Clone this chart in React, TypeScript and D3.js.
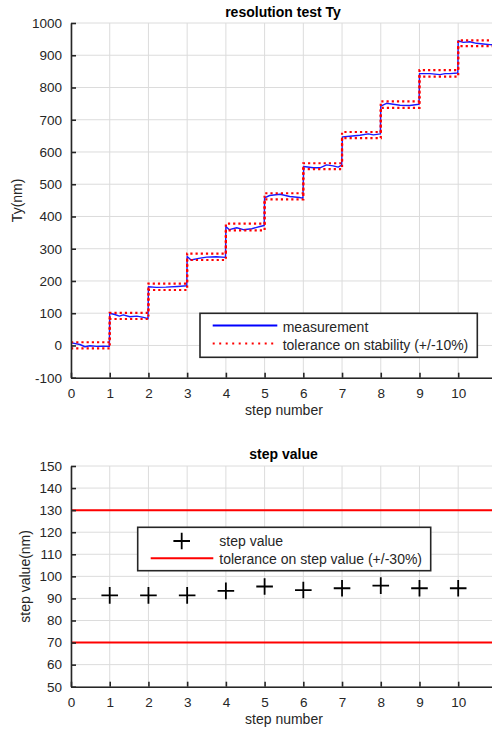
import React, { useEffect, useRef } from "react";
import * as d3 from "d3";

const W = 492;
const H = 729;
const FONT = "Liberation Sans, Arial, Helvetica, sans-serif";
const INK = "#262626";
const GRID = "#dcdcdc";

// shared x axis: step number
const xTicks = [0, 1, 2, 3, 4, 5, 6, 7, 8, 9, 10];

// top panel: resolution test Ty
const tyTicks = [-100, 0, 100, 200, 300, 400, 500, 600, 700, 800, 900, 1000];

const measX = [
  0.02, 0.23, 0.36, 0.49, 0.66, 0.83, 0.99,
  1.0, 1.13, 1.25, 1.35, 1.52, 1.7, 1.87, 1.99,
  2.0, 2.2, 2.45, 2.75, 2.99,
  3.0, 3.1, 3.3, 3.5, 3.75, 3.99,
  4.0, 4.09, 4.28, 4.45, 4.67, 4.88, 4.99,
  5.0, 5.13, 5.4, 5.65, 5.9, 5.99,
  6.01, 6.26, 6.43, 6.6, 6.77, 6.9, 6.99,
  7.01, 7.2, 7.46, 7.68, 7.81, 7.99,
  8.0, 8.15, 8.32, 8.5, 8.75, 8.99,
  9.0, 9.27, 9.53, 9.66, 9.79, 9.99,
  10.0, 10.13, 10.3, 10.47, 10.65, 10.82, 11.0,
];
const measY = [
  8, 3, -4, -1, -3, -2, -3,
  100, 96, 91, 95, 89, 91, 87, 83,
  182, 180, 181, 183, 185,
  276, 265, 270, 274, 275, 273,
  369, 359, 365, 359, 362, 369, 372,
  458, 465, 469, 462, 459, 457,
  555, 551, 551, 560, 557, 553, 559,
  647, 649, 652, 656, 653, 656,
  742, 751, 748, 745, 744, 748,
  843, 843, 840, 843, 843, 845,
  945, 940, 942, 937, 935, 933, 932,
];

// tolerance on stability, one plateau per step (starts at step index)
const tolX = [0, 1, 2, 3, 4, 5, 6, 7, 8, 9, 10, 11];
const tolUpper = [10, 101, 192, 285, 378, 472, 565, 662, 757, 854, 946, 946];
const tolLower = [-9, 82, 172, 265, 357, 453, 547, 643, 737, 834, 928, 928];

// bottom panel: step value
const svTicks = [50, 60, 70, 80, 90, 100, 110, 120, 130, 140, 150];
const stepNumbers = [1, 2, 3, 4, 5, 6, 7, 8, 9, 10];
const stepValues = [91.4, 91.4, 91.4, 93.4, 95.4, 93.8, 94.6, 95.8, 94.6, 94.6];
const stepTolerance = [130, 70];

export default function App() {
  const svgRef = useRef<SVGSVGElement | null>(null);

  useEffect(() => {
    if (!svgRef.current) return;
    const svg = d3.select(svgRef.current);
    svg.selectAll("*").remove();

    const x = d3.scaleLinear().domain([0, 11]).range([71, 71 + 11 * 38.72]);
    const yTop = d3.scaleLinear().domain([-100, 1000]).range([377.7, 23]);
    const yBot = d3.scaleLinear().domain([50, 150]).range([686.7, 466]);
    const plain = (d: any) => String(d);

    const grid = (y: any, yTicks: number[]) => {
      const g = svg.append("g");
      g.selectAll("line.v")
        .data(xTicks)
        .join("line")
        .attr("x1", (d) => x(d))
        .attr("x2", (d) => x(d))
        .attr("y1", y.range()[0])
        .attr("y2", y.range()[1])
        .attr("stroke", GRID)
        .attr("stroke-width", 1);
      g.selectAll("line.h")
        .data(yTicks)
        .join("line")
        .attr("x1", x.range()[0])
        .attr("x2", x.range()[1])
        .attr("y1", (d) => y(d))
        .attr("y2", (d) => y(d))
        .attr("stroke", GRID)
        .attr("stroke-width", 1);
    };

    const axes = (y: any, yTicks: number[]) => {
      const left = svg
        .append("g")
        .attr("transform", `translate(${x(0)},0)`)
        .call(
          d3.axisLeft(y).tickValues(yTicks).tickFormat(plain).tickSize(-5).tickSizeOuter(0).tickPadding(9)
        );
      const bottom = svg
        .append("g")
        .attr("transform", `translate(0,${y.range()[0]})`)
        .call(
          d3.axisBottom(x).tickValues(xTicks).tickFormat(plain).tickSize(-5).tickSizeOuter(0).tickPadding(11)
        );
      [left, bottom].forEach((a) => {
        a.select(".domain").attr("stroke", INK).attr("stroke-width", 1.6);
        a.selectAll(".tick line").attr("stroke", INK).attr("stroke-width", 1.6);
        a.selectAll(".tick text")
          .attr("fill", INK)
          .attr("font-size", "13.5px")
          .attr("font-family", FONT);
      });
    };

    const label = (t: string, px: number, py: number, opts: any = {}) =>
      svg
        .append("text")
        .attr("x", px)
        .attr("y", py)
        .attr("text-anchor", opts.anchor || "middle")
        .attr("font-family", FONT)
        .attr("font-size", opts.size || "14px")
        .attr("font-weight", opts.bold ? "bold" : "normal")
        .attr("fill", opts.fill || INK)
        .attr("transform", opts.rotate ? `rotate(-90,${px},${py})` : null)
        .text(t);

    // ---------- top panel ----------
    grid(yTop, tyTicks);

    const stepLine = d3
      .line<number>()
      .x((_, i) => x(tolX[i]))
      .curve(d3.curveStepAfter);

    const measLine = d3
      .line<number>()
      .x((_, i) => x(measX[i]))
      .y((d) => yTop(d));

    svg
      .append("path")
      .datum(measY)
      .attr("fill", "none")
      .attr("stroke", "#1a1aff")
      .attr("stroke-width", 1.4)
      .attr("stroke-linejoin", "round")
      .attr("d", measLine);

    [tolUpper, tolLower].forEach((band) => {
      svg
        .append("path")
        .datum(band)
        .attr("fill", "none")
        .attr("stroke", "#ff0000")
        .attr("stroke-width", 2.2)
        .attr("stroke-dasharray", "2.2,3")
        .attr("d", stepLine.y((d) => yTop(d)));
    });

    axes(yTop, tyTicks);

    label("resolution test Ty", 283, 17, { bold: true, fill: "#000" });
    label("step number", x(5.5), 414.5);
    label("Ty(nm)", 22, yTop(450), { rotate: true });

    // legend
    const lg = svg.append("g");
    lg.append("rect")
      .attr("x", 200)
      .attr("y", 313.3)
      .attr("width", 277.3)
      .attr("height", 44)
      .attr("fill", "#fff")
      .attr("stroke", INK)
      .attr("stroke-width", 1.6);
    lg.append("line")
      .attr("x1", 212.7)
      .attr("x2", 277.3)
      .attr("y1", 325.5)
      .attr("y2", 325.5)
      .attr("stroke", "#0000ff")
      .attr("stroke-width", 2);
    lg.append("line")
      .attr("x1", 212.7)
      .attr("x2", 277.3)
      .attr("y1", 343.5)
      .attr("y2", 343.5)
      .attr("stroke", "#ff0000")
      .attr("stroke-width", 2)
      .attr("stroke-dasharray", "2,4.5");
    label("measurement", 282.7, 332, { anchor: "start" });
    label("tolerance on stability (+/-10%)", 282.7, 350, { anchor: "start" });

    // ---------- bottom panel ----------
    grid(yBot, svTicks);

    svg
      .append("g")
      .selectAll("line")
      .data(stepTolerance)
      .join("line")
      .attr("x1", x.range()[0])
      .attr("x2", x.range()[1])
      .attr("y1", (d) => yBot(d))
      .attr("y2", (d) => yBot(d))
      .attr("stroke", "#ff0000")
      .attr("stroke-width", 2);

    svg
      .append("g")
      .selectAll("path")
      .data(stepValues)
      .join("path")
      .attr("transform", (d, i) => `translate(${x(stepNumbers[i])},${yBot(d)})`)
      .attr("d", "M-8.3,0H8.3M0,-8.3V8.3")
      .attr("stroke", "#000")
      .attr("stroke-width", 1.8)
      .attr("fill", "none");

    axes(yBot, svTicks);

    label("step value", 283.5, 459, { bold: true, fill: "#000" });
    label("step number", x(5.5), 724);
    label("step value(nm)", 30, yBot(100), { rotate: true });

    const lg2 = svg.append("g");
    lg2.append("rect")
      .attr("x", 137.7)
      .attr("y", 527.3)
      .attr("width", 293)
      .attr("height", 43.4)
      .attr("fill", "#fff")
      .attr("stroke", INK)
      .attr("stroke-width", 1.6);
    lg2.append("path")
      .attr("transform", "translate(181.7,541)")
      .attr("d", "M-8.3,0H8.3M0,-8.3V8.3")
      .attr("stroke", "#000")
      .attr("stroke-width", 1.8);
    lg2.append("line")
      .attr("x1", 150.7)
      .attr("x2", 213.3)
      .attr("y1", 558.3)
      .attr("y2", 558.3)
      .attr("stroke", "#ff0000")
      .attr("stroke-width", 2);
    label("step value", 219.3, 545.5, { anchor: "start" });
    label("tolerance on step value (+/-30%)", 219.3, 563.5, { anchor: "start" });
  }, []);

  return (
    <svg
      ref={svgRef}
      width={W}
      height={H}
      style={{ position: "absolute", left: 0, top: 0, background: "#fff" }}
    ></svg>
  );
}
